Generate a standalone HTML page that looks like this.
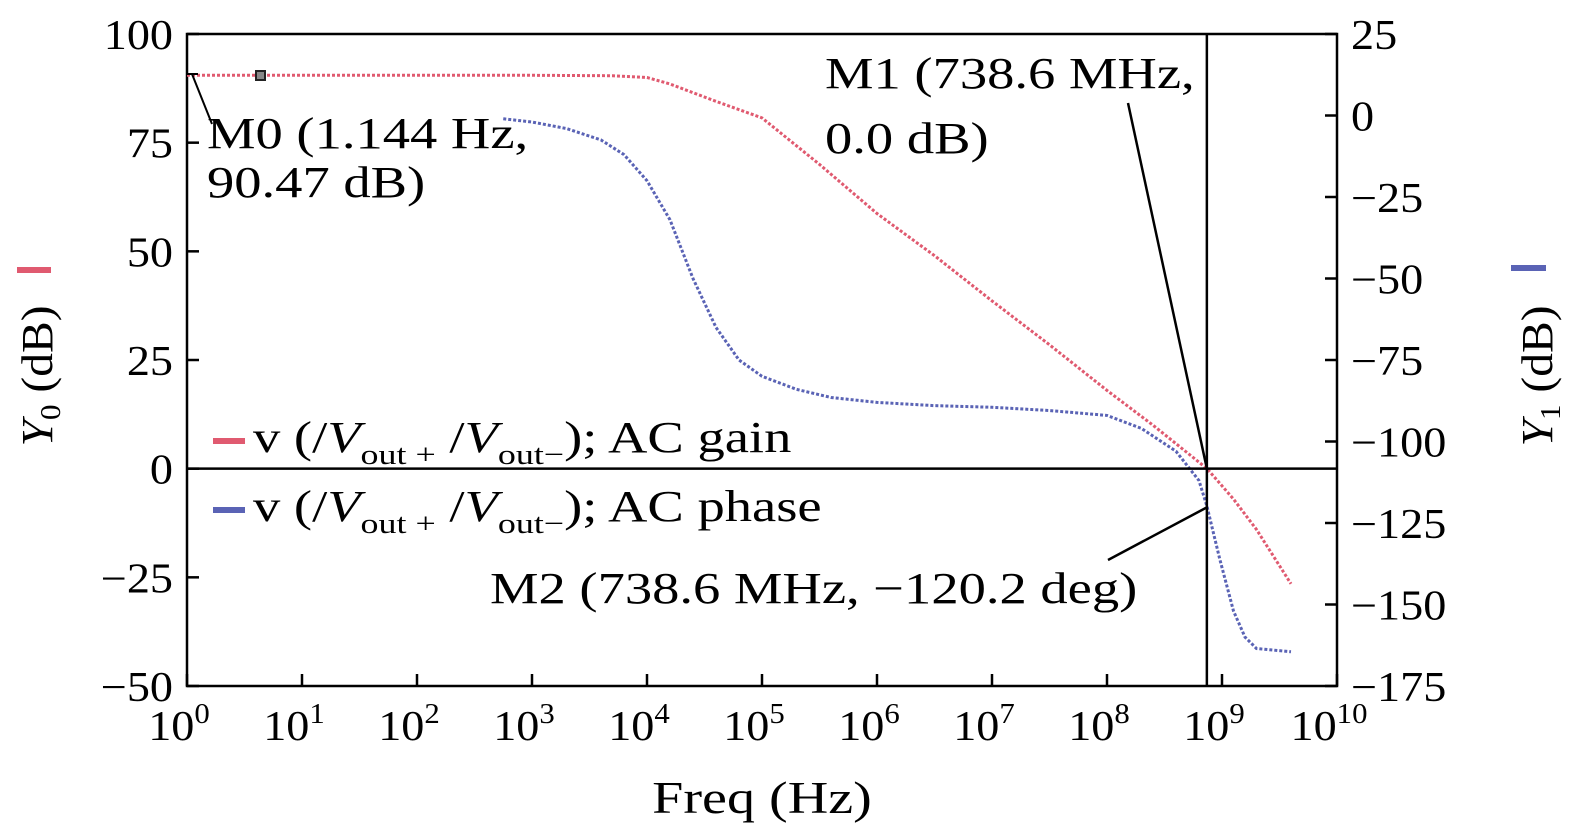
<!DOCTYPE html>
<html><head><meta charset="utf-8"><style>
html,body{margin:0;padding:0;background:#fff;}
svg{display:block;font-family:"Liberation Serif",serif;}
</style></head><body>
<svg id="chart" width="1575" height="840" viewBox="0 0 1575 840">
<g id="axes"></g>
<g id="series"></g>
<g id="annot"></g>
</svg>
<script>
const xDecades=[0,1,2,3,4,5,6,7,8,9,10];
const yLeftTicks=[100,75,50,25,0,-25,-50];
const yRightTicks=[25,0,-25,-50,-75,-100,-125,-150,-175];
const gainLogF=[0,1,2,3,3.7,4,4.2,4.35,4.6,5,5.5,6,6.5,7,7.5,8,8.4,8.87,9.1,9.3,9.6];
const gainDb=[90.5,90.5,90.5,90.5,90.4,90,88.5,87,84.5,80.7,70,58.7,49,38.6,28.5,18,10,0,-7,-14,-26.5];
const phaseLogF=[2.75,3,3.3,3.6,3.8,4,4.2,4.4,4.6,4.8,5,5.3,5.6,6,6.5,7,7.5,8,8.3,8.6,8.8,8.87,8.98,9.1,9.2,9.3,9.6];
const phaseDeg=[-1,-2,-4,-7.5,-12,-20,-32,-50,-65,-75,-80,-84,-86.5,-88,-89,-89.5,-90.5,-92,-96,-103,-112,-120,-136,-152,-160,-163.5,-164.5];
const X0=187,X1=1337,Y0=34,Y1=686;
const fx=d=>X0+(d-0)/(10-0)*(X1-X0);
const fyL=v=>Y0+(100-v)/150*(Y1-Y0);
const fyR=v=>Y0+(25-v)/200*(Y1-Y0);
const NS="http://www.w3.org/2000/svg";
function mk(p,t,a){const e=document.createElementNS(NS,t);for(const k in a)e.setAttribute(k,a[k]);p.appendChild(e);return e;}
const axes=document.getElementById('axes'),ser=document.getElementById('series'),ann=document.getElementById('annot');
let r=mk(axes,'rect',{x:X0,y:Y0,width:X1-X0,height:Y1-Y0,fill:'none',stroke:'#000','stroke-width':2.5});

const TS='scale(1.1,1)';
xDecades.forEach(d=>{const x=fx(d);
 mk(axes,'line',{x1:x,x2:x,y1:Y1,y2:Y1-12,stroke:'#000','stroke-width':2.5});
 const t=mk(axes,'text',{transform:`translate(${x-8},${Y1+54}) ${TS}`,'font-size':42,'text-anchor':'middle'});
 
 t.textContent='10';const s=mk(t,'tspan',{dy:-17,'font-size':28});s.textContent=d;});
yLeftTicks.forEach(v=>{const y=fyL(v);
 mk(axes,'line',{x1:X0,x2:X0+12,y1:y,y2:y,stroke:'#000','stroke-width':2.5});
 const t=mk(axes,'text',{transform:`translate(${X0-14},${y+15}) ${TS}`,'font-size':42,'text-anchor':'end'});
 
 t.textContent=v<0?'\u2212'+(-v):v;});
yRightTicks.forEach(v=>{const y=fyR(v);
 mk(axes,'line',{x1:X1,x2:X1-12,y1:y,y2:y,stroke:'#000','stroke-width':2.5});
 const t=mk(axes,'text',{transform:`translate(${X1+14},${y+15}) ${TS}`,'font-size':42,'text-anchor':'start'});
 
 t.textContent=v<0?'\u2212'+(-v):v;});
let xt=mk(axes,'text',{transform:'translate(762,813) scale(1.22,1)','font-size':46,'text-anchor':'middle'});xt.textContent='Freq (Hz)';

let yl=mk(axes,'text',{transform:'translate(52,376) rotate(-90) scale(1.08,1)','font-size':44,'text-anchor':'middle'});

yl.innerHTML='<tspan font-style="italic">Y</tspan><tspan dy="8" font-size="29">0</tspan><tspan dy="-8"> (dB)</tspan>';
let lb=mk(axes,'rect',{x:17,y:267,width:34,height:6,fill:'#e05a70'});

let yr=mk(axes,'text',{transform:'translate(1552,376) rotate(-90) scale(1.08,1)','font-size':44,'text-anchor':'middle'});

yr.innerHTML='<tspan font-style="italic">Y</tspan><tspan dy="8" font-size="29">1</tspan><tspan dy="-8"> (dB)</tspan>';
let rb=mk(axes,'rect',{x:1511,y:265,width:35,height:6,fill:'#5a63b5'});

mk(ann,'line',{x1:X0,x2:X1,y1:fyL(0),y2:fyL(0),stroke:'#000','stroke-width':2.5});
const mx=fx(Math.log10(738.6e6));
mk(ann,'line',{x1:mx,x2:mx,y1:Y0,y2:Y1,stroke:'#000','stroke-width':2.5});
let g=mk(ser,'polyline',{points:gainLogF.map((d,i)=>fx(d)+','+fyL(gainDb[i])).join(' '),fill:'none',stroke:'#e05a70','stroke-width':3,'stroke-dasharray':'3 2'});

let p=mk(ser,'polyline',{points:phaseLogF.map((d,i)=>fx(d)+','+fyR(phaseDeg[i])).join(' '),fill:'none',stroke:'#5a63b5','stroke-width':3,'stroke-dasharray':'3 2'});

mk(ann,'rect',{x:256,y:71,width:9,height:9,fill:'#888',stroke:'#222','stroke-width':2});
mk(ann,'line',{x1:212,y1:124,x2:192,y2:74,stroke:'#000','stroke-width':2});
mk(ann,'line',{x1:186,y1:74,x2:198,y2:74,stroke:'#000','stroke-width':2});
mk(ann,'line',{x1:1128,y1:103,x2:mx,y2:fyL(0),stroke:'#000','stroke-width':2.5});
mk(ann,'line',{x1:1108,y1:560,x2:mx,y2:fyR(-120.2),stroke:'#000','stroke-width':2.5});
const AS='scale(1.24,1)';
function txt(x,y,s,n){const t=mk(ann,'text',{transform:`translate(${x},${y}) ${AS}`,'font-size':44});t.textContent=s;}
txt(207,148,'M0 (1.144 Hz,','m0-label');txt(207,197,'90.47 dB)','m0-label-2');
txt(825,88,'M1 (738.6 MHz,','m1-label');txt(825,153,'0.0 dB)','m1-label-2');
txt(490,603,'M2 (738.6 MHz, \u2212120.2 deg)','m2-label');
function leg(y,col,lbl,n){const gg=mk(ann,'g',{});
 mk(gg,'rect',{x:213,y:y-14,width:32,height:6,fill:col});
 const t=mk(gg,'text',{transform:`translate(253,${y}) ${AS}`,'font-size':44});
 t.innerHTML='v (/<tspan font-style="italic">V</tspan><tspan dy="12" font-size="29">out +</tspan><tspan dy="-12"> /</tspan><tspan font-style="italic">V</tspan><tspan dy="12" font-size="29">out\u2212</tspan><tspan dy="-12">); AC '+lbl+'</tspan>';}
leg(452,'#e05a70','gain','legend-gain');leg(521,'#5a63b5','phase','legend-phase');
</script>
</body></html>
